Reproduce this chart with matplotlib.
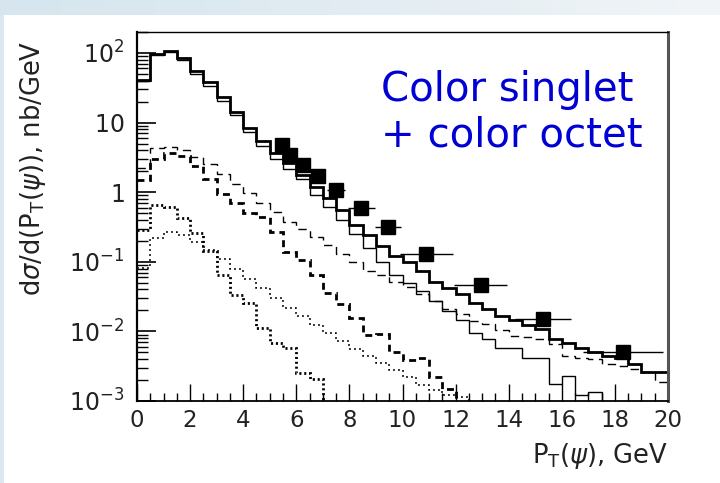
import numpy as np
import matplotlib
matplotlib.use("Agg")
import matplotlib.pyplot as plt
from matplotlib.ticker import (FixedLocator, FixedFormatter, LogLocator,
                               MultipleLocator, NullFormatter)
from matplotlib.patches import Rectangle
from matplotlib.colors import LinearSegmentedColormap

plt.rcParams['font.family'] = ['DejaVu Sans']
plt.rcParams['lines.scale_dashes'] = False

# transverse-momentum bins, 0.5 GeV wide
bin_edges = np.arange(0.0, 20.5, 0.5)

# d(sigma)/dPT, nb/GeV, one value per bin
total_thick = [41, 98, 107, 84, 55, 38, 23, 14.4, 8.4, 5.5,
               3.6, 2.6, 1.75, 1.2, 0.82, 0.55, 0.34, 0.24, 0.17, 0.12,
               0.098, 0.073, 0.052, 0.042, 0.034, 0.026, 0.021, 0.0166, 0.0148, 0.0122,
               0.0107, 0.0079, 0.0069, 0.0058, 0.0051, 0.0045, 0.0041, 0.0034, 0.00265, 0.00265]
total_thin = [40, 95, 103, 80, 50, 34, 20.5, 12.8, 7.3, 4.6,
              3.0, 2.15, 1.53, 0.92, 0.62, 0.40, 0.25, 0.16, 0.10, 0.065,
              0.0495, 0.0377, 0.0271, 0.0195, 0.0148, 0.0096, 0.0077, 0.0057, 0.0057, 0.0041,
              0.0041, 0.00175, 0.0023, 0.0012, 0.00133, 0, 0, 0, 0, 0]
octet_thin = [2.2, 4.35, 4.5, 4.0, 3.2, 2.5, 1.8, 1.3, 0.98, 0.69,
              0.52, 0.377, 0.30, 0.23, 0.174, 0.13, 0.098, 0.073, 0.065, 0.052,
              0.044, 0.034, 0.027, 0.021, 0.0175, 0.014, 0.0126, 0.0105, 0.0086, 0.0082,
              0.0077, 0.0065, 0.0044, 0.0042, 0.0040, 0.0034, 0.0032, 0.0029, 0.0026, 0.0019]
octet_thick = [1.5, 3.0, 3.6, 3.3, 2.4, 1.53, 0.93, 0.70, 0.51, 0.435,
               0.265, 0.14, 0.107, 0.065, 0.036, 0.025, 0.0158, 0.0088, 0.0093, 0.0050,
               0.0039, 0.0041, 0.0022, 0.0015, 0, 0, 0, 0, 0, 0,
               0, 0, 0, 0, 0, 0, 0, 0, 0, 0]
singlet_thick = [0.29, 0.65, 0.62, 0.42, 0.26, 0.145, 0.065, 0.033, 0.0257, 0.0113,
                 0.0067, 0.0057, 0.0025, 0.0021, 0, 0, 0, 0, 0, 0,
                 0, 0, 0, 0, 0, 0, 0, 0, 0, 0,
                 0, 0, 0, 0, 0, 0, 0, 0, 0, 0]
singlet_thin = [0.082, 0.22, 0.265, 0.243, 0.19, 0.15, 0.109, 0.080, 0.057, 0.0416,
                0.030, 0.0218, 0.0164, 0.0125, 0.0096, 0.0072, 0.0056, 0.0044, 0.0035, 0.0028,
                0.0022, 0.0017, 0.00146, 0.0012, 0.00113, 0, 0, 0, 0, 0,
                0, 0, 0, 0, 0, 0, 0, 0, 0, 0]

# measured points
data_pt = [5.45, 5.75, 6.25, 6.8, 7.5, 8.45, 9.45, 10.9, 12.95, 15.3, 18.3]
data_xsec = [4.7, 3.4, 2.43, 1.68, 1.09, 0.60, 0.32, 0.129, 0.046, 0.0153, 0.0051]
data_pt_err = [0.25, 0.25, 0.25, 0.25, 0.35, 0.5, 0.5, 1.0, 1.0, 1.05, 1.5]

x_ticks = np.arange(0, 21, 2)
y_ticks = [1e-3, 1e-2, 1e-1, 1, 10, 1e2]
y_tick_labels = [r'$10^{-3}$', r'$10^{-2}$', r'$10^{-1}$',
                 r'$1\quad$', r'$10\quad$', r'$10^{2}$']

fig = plt.figure(figsize=(7.2, 4.83), dpi=100)
fig.patch.set_facecolor('white')

# pale blue frame of the slide
band = fig.add_axes([0, 1 - 15 / 483, 1, 15 / 483], zorder=-10)
band_cmap = LinearSegmentedColormap.from_list('band', ['#d6e5ee', '#e2ecf2', '#f1f5f8'])
band.imshow(np.linspace(0, 1, 256)[None, :], aspect='auto', cmap=band_cmap,
            extent=[0, 1, 0, 1])
band.axis('off')
fig.add_artist(Rectangle((0, 0), 4 / 720, 1 - 15 / 483, transform=fig.transFigure,
                         color='#dbe8f0', lw=0, zorder=-10))

ax = fig.add_axes([137 / 720, 82 / 483, 531 / 720, 369 / 483])
ax.set_yscale('log')
ax.set_xlim(0, 20)
ax.set_ylim(1e-3, 2e2)


def floor(v):
    # empty bins fall below the visible range
    return np.maximum(np.asarray(v, dtype=float), 1e-7)


ax.stairs(floor(total_thin), bin_edges, baseline=None, color='black', lw=1.0)
ax.stairs(floor(total_thick), bin_edges, baseline=None, color='black', lw=2.0)
ax.stairs(floor(octet_thin), bin_edges, baseline=None, color='black', lw=1.0,
          linestyle=(0, (6, 4)))
ax.stairs(floor(octet_thick), bin_edges, baseline=None, color='black', lw=2.0,
          linestyle=(0, (5, 3.5)))
ax.stairs(floor(singlet_thin), bin_edges, baseline=None, color='black', lw=1.1,
          linestyle=(0, (1.4, 2.2)))
ax.stairs(floor(singlet_thick), bin_edges, baseline=None, color='black', lw=2.0,
          linestyle=(0, (1.5, 2.0)))

ax.errorbar(data_pt, data_xsec, xerr=data_pt_err, fmt='s', ms=10, color='black',
            elinewidth=1.0, capsize=0, zorder=5)

# axes decoration
ax.xaxis.set_major_locator(FixedLocator(x_ticks))
ax.xaxis.set_minor_locator(MultipleLocator(0.5))
ax.yaxis.set_major_locator(FixedLocator(y_ticks))
ax.yaxis.set_major_formatter(FixedFormatter(y_tick_labels))
ax.yaxis.set_minor_locator(LogLocator(base=10, subs=np.arange(2, 10)))
ax.yaxis.set_minor_formatter(NullFormatter())

ax.tick_params(axis='x', which='major', direction='in', length=12, width=1.0,
               labelsize=16.5, pad=6, top=False, labelcolor='#222222')
ax.tick_params(axis='x', which='minor', direction='in', length=6, width=1.0, top=False)
ax.tick_params(axis='y', which='major', direction='in', length=14, width=1.2,
               labelsize=17, pad=9, right=False, labelcolor='#222222')
ax.tick_params(axis='y', which='minor', direction='in', length=8, width=1.0, right=False)

for side in ('left', 'bottom', 'top'):
    ax.spines[side].set_color('black')
ax.spines['left'].set_linewidth(1.6)
ax.spines['bottom'].set_linewidth(1.3)
ax.spines['top'].set_linewidth(1.0)
ax.spines['right'].set_linewidth(2.2)
ax.spines['right'].set_color('#555555')

ax.set_xlabel(r'P$_{\mathrm{T}}$($\psi$), GeV', fontsize=18.5, ha='right', va='center',
              color='#222222')
ax.xaxis.set_label_coords(1.0, -0.149)
ax.set_ylabel(r'd$\sigma$/d(P$_{\mathrm{T}}$($\psi$)), nb/GeV', fontsize=18.5,
              ha='center', va='center', color='#222222')
ax.yaxis.set_label_coords(-0.196, 0.631)

fig.text(381 / 720, (483 - 101.5) / 483, 'Color singlet', color='#0000d4',
         fontsize=29, ha='left', va='baseline')
fig.text(381 / 720, (483 - 146.5) / 483, '+ color octet', color='#0000d4',
         fontsize=29, ha='left', va='baseline')

fig.savefig('out.png', dpi=100, facecolor=fig.get_facecolor())
